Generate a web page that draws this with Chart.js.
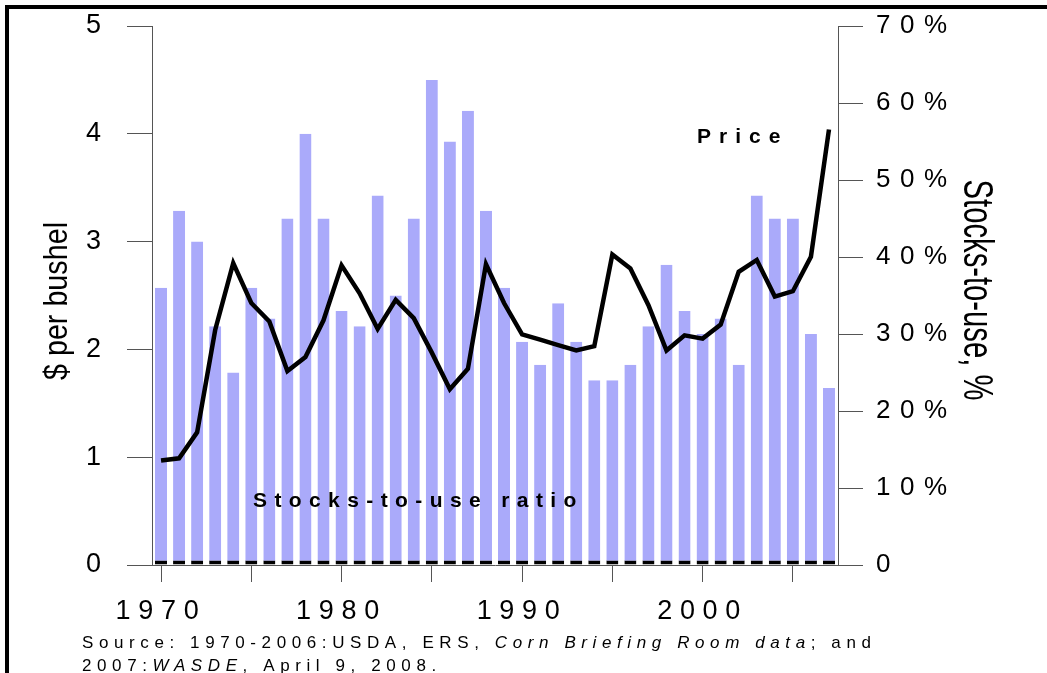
<!DOCTYPE html>
<html><head><meta charset="utf-8">
<script src="https://cdn.jsdelivr.net/npm/chart.js@4.4.1/dist/chart.umd.min.js"></script>
<style>html,body{margin:0;padding:0;background:#fff;}#wrap{width:1047px;height:673px;position:relative;}</style>
</head><body><div id="wrap"><canvas id="c" width="1047" height="673"></canvas></div>
<script>
const years = [];
for (let y = 1970; y <= 2007; y++) years.push(y);
// Stocks-to-use ratio, %
const stocksToUse = [36,46,42,31,25,36,32,45,56,45,33,31,48,35,45,63,55,59,46,36,29,26,34,29,24,24,26,31,39,33,30,32,26,48,45,45,30,23];
// Price, $ per bushel
const price = [0.97,0.99,1.23,2.18,2.80,2.43,2.26,1.80,1.93,2.27,2.78,2.52,2.19,2.46,2.29,1.97,1.63,1.82,2.79,2.43,2.14,2.09,2.04,1.99,2.03,2.88,2.75,2.41,1.99,2.13,2.10,2.23,2.72,2.83,2.49,2.54,2.86,4.04];
const leftTicks = [0,1,2,3,4,5];
const rightTicks = [0,10,20,30,40,50,60,70];

const FONT = "'Liberation Sans', Arial, sans-serif";
const AXIS = '#555';

function spaced(px){
  return function(scale){
    if (scale.__wrapped) return;
    scale.__wrapped = true;
    const orig = scale.drawLabels;
    scale.drawLabels = function(a){
      const c = this.ctx;
      const prev = c.letterSpacing;
      c.letterSpacing = px + 'px';
      orig.call(this, a);
      c.letterSpacing = prev || '0px';
    };
  };
}

const deco = {
  id: 'deco',
  afterDraw(chart){
    const ctx = chart.ctx;
    ctx.save();
    ctx.fillStyle = '#000';
    // frame
    ctx.fillRect(5, 5, 1042, 4);
    ctx.fillRect(5, 5, 4, 668);
    // left title
    ctx.save();
    ctx.translate(67, 301);
    ctx.rotate(-Math.PI/2);
    ctx.scale(0.87, 1);
    ctx.font = "33px " + FONT;
    ctx.textAlign = 'center';
    ctx.textBaseline = 'alphabetic';
    ctx.fillText('$ per bushel', 0, 0);
    ctx.restore();
    // right title
    ctx.save();
    ctx.translate(964, 290);
    ctx.rotate(Math.PI/2);
    ctx.scale(0.68, 1);
    ctx.font = "43px " + FONT;
    ctx.textAlign = 'center';
    ctx.textBaseline = 'alphabetic';
    ctx.fillText('Stocks-to-use, %', 0, 0);
    ctx.restore();
    // annotations
    ctx.font = "bold 21px " + FONT;
    ctx.textAlign = 'left';
    ctx.textBaseline = 'alphabetic';
    ctx.letterSpacing = '8px';
    ctx.fillText('Price', 697, 143);
    ctx.letterSpacing = '7.4px';
    ctx.fillText('Stocks-to-use ratio', 253, 507);
    // source
    ctx.letterSpacing = '5.6px';
    function segs(list, x, y){
      for (const [t, it] of list){
        ctx.font = (it ? 'italic ' : '') + '17px ' + FONT;
        ctx.fillText(t, x, y);
        x += ctx.measureText(t).width;
      }
    }
    segs([['Source: 1970-2006:USDA, ERS, ', false], ['Corn Briefing Room data', true], ['; and', false]], 82, 648);
    segs([['2007:', false], ['WASDE', true], [', April 9, 2008.', false]], 82, 671);
    ctx.restore();
  }
};

function noPad(w){
  return (s) => { s.width = w; s.paddingTop = 0; s.paddingBottom = 0; };
}

new Chart(document.getElementById('c'), {
  data: {
    labels: years.map(String),
    datasets: [
      { type: 'line', label: 'Price', data: price, yAxisID: 'y', borderColor: '#000', borderWidth: 4.5,
        pointRadius: 0, tension: 0, order: 0, borderJoinStyle: 'miter', fill: false },
      { type: 'bar', label: 'Stocks-to-use ratio', data: stocksToUse, yAxisID: 'y1',
        backgroundColor: 'rgb(170,170,250)', borderColor: '#000', borderSkipped: false,
        borderWidth: {top: 0, left: 0, right: 0, bottom: 4},
        categoryPercentage: 1, barPercentage: 0.667, order: 1 }
    ]
  },
  options: {
    responsive: false,
    animation: false,
    layout: { padding: { top: 26, left: 0, right: 0, bottom: 0 } },
    plugins: { legend: { display: false }, tooltip: { enabled: false } },
    scales: {
      x: {
        type: 'category',
        offset: true,
        grid: { offset: false, drawOnChartArea: false, drawTicks: true, tickLength: 17,
          tickColor: (c) => (years[c.index] % 5 === 0 ? AXIS : 'rgba(0,0,0,0)'), tickWidth: 1 },
        border: { display: true, color: AXIS, width: 1 },
        ticks: { autoSkip: false, maxRotation: 0, minRotation: 0, padding: 13, color: '#000',
          font: { size: 27, family: FONT },
          callback: (v, i) => (years[i] % 10 === 0 ? String(years[i]) : '') },
        afterFit: (s) => { s.height = 108; s.paddingLeft = 0; s.paddingRight = 0; },
        afterUpdate: spaced(7.7)
      },
      y: {
        position: 'left', min: 0, max: 5,
        afterBuildTicks: (s) => { s.ticks = leftTicks.map(v => ({ value: v })); },
        grid: { drawOnChartArea: false, tickLength: 25, tickColor: AXIS },
        border: { display: true, color: AXIS, width: 1 },
        ticks: { padding: 26, color: '#000', font: { size: 27, family: FONT }, callback: (v) => String(v) },
        afterFit: noPad(152)
      },
      y1: {
        position: 'right', min: 0, max: 70,
        afterBuildTicks: (s) => { s.ticks = rightTicks.map(v => ({ value: v })); },
        grid: { drawOnChartArea: false, tickLength: 25, tickColor: AXIS },
        border: { display: true, color: AXIS, width: 1 },
        ticks: { padding: 13, color: '#000', font: { size: 26, family: FONT },
          callback: (v) => (v === 0 ? '0' : v + '%') },
        afterFit: noPad(209),
        afterUpdate: spaced(9.5)
      }
    }
  },
  plugins: [deco]
});
</script></body></html>
